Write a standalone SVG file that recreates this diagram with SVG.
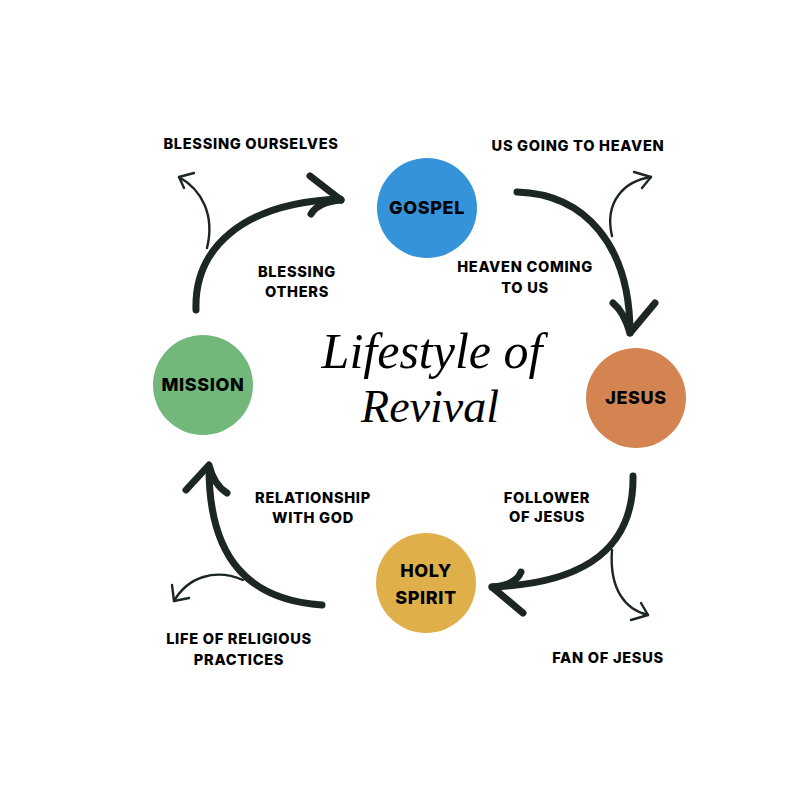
<svg xmlns="http://www.w3.org/2000/svg" width="800" height="800" viewBox="0 0 800 800">
<defs>
<style>
.lbl{font-family:Inter,"Liberation Sans",sans-serif;font-weight:800;font-size:14.6px;fill:#000;text-anchor:middle;letter-spacing:0.7px}
.node{font-family:Inter,"Liberation Sans",sans-serif;font-weight:800;font-size:18px;fill:#000;text-anchor:middle;letter-spacing:0.6px}
.thick{fill:none;stroke:#1c2721;stroke-width:7;stroke-linecap:round;stroke-linejoin:round}
.thin{fill:none;stroke:#1c2721;stroke-width:2.4;stroke-linecap:round;stroke-linejoin:round}
.title{font-family:"Liberation Serif","DejaVu Serif",serif;font-style:italic;font-size:46px;fill:#000;text-anchor:middle}
.title.big{font-size:50px}
</style>
<linearGradient id="fade" gradientUnits="userSpaceOnUse" x1="0" y1="464" x2="0" y2="488">
<stop offset="0" stop-color="#d8d8d8"/>
<stop offset="1" stop-color="#1c2721"/>
</linearGradient>
</defs>
<rect width="800" height="800" fill="#fff"/>
<g id="connectors">
<path class="thick" d="M196,310 C194,250 240,203 340,199"/>
<path class="thick" d="M310,176 L341,200"/>
<path class="thick" d="M311,214 Q318,202 341,200"/>
<path class="thin" d="M207,248 C215,215 202,190 179,177"/>
<path class="thin" d="M194,173 L179,177 L184,188"/>
<path class="thick" d="M517,192 C585,194 630,245 630,333"/>
<path class="thick" d="M613,303 Q624,312 630,333 L655,303"/>
<path class="thin" d="M612,236 C604,202 624,181 651,177"/>
<path class="thin" d="M634,172 L651,177 L642,188"/>
<path class="thick" d="M633,476 C634,545 590,583 492,587"/>
<path class="thick" d="M521,572 Q516,585 492,587 L523,613"/>
<path class="thin" d="M612,550 C609,590 626,610 648,615"/>
<path class="thin" d="M641,603 L648,615 L631,620"/>
<path class="thick" d="M322,605 C250,600 209,560 209,468" stroke="url(#fade)"/>
<path class="thick" d="M186,490 L209,465 Q214,485 227,493" stroke="url(#fade)"/>
<path class="thin" d="M243,580 C215,568 188,577 174,601"/>
<path class="thin" d="M172,585 L174,601 L189,598"/>
</g>
<g id="gospel">
<circle cx="427" cy="208" r="50" fill="#3594d9"/>
<text class="node" x="427" y="214">GOSPEL</text>
</g>
<g id="jesus">
<circle cx="636" cy="398" r="50" fill="#d38451"/>
<text class="node" x="636" y="404">JESUS</text>
</g>
<g id="holy-spirit">
<circle cx="426" cy="583" r="50" fill="#dfb04a"/>
<text class="node" x="426" y="577">HOLY</text>
<text class="node" x="426" y="604">SPIRIT</text>
</g>
<g id="mission">
<circle cx="203" cy="385" r="50" fill="#72b87b"/>
<text class="node" x="203" y="391">MISSION</text>
</g>
<g id="labels">
<text class="lbl" x="251" y="149">BLESSING OURSELVES</text>
<text class="lbl" x="578" y="151">US GOING TO HEAVEN</text>
<text class="lbl" x="297" y="277">BLESSING</text>
<text class="lbl" x="297" y="297">OTHERS</text>
<text class="lbl" x="525" y="272">HEAVEN COMING</text>
<text class="lbl" x="525" y="293">TO US</text>
<text class="lbl" x="313" y="503">RELATIONSHIP</text>
<text class="lbl" x="313" y="523">WITH GOD</text>
<text class="lbl" x="547" y="503">FOLLOWER</text>
<text class="lbl" x="547" y="522">OF JESUS</text>
<text class="lbl" x="608" y="663">FAN OF JESUS</text>
<text class="lbl" x="239" y="644">LIFE OF RELIGIOUS</text>
<text class="lbl" x="239" y="665">PRACTICES</text>
</g>
<g id="title">
<text class="title big" x="432" y="368">Lifestyle of</text>
<text class="title" x="430" y="422">Revival</text>
</g>
</svg>
